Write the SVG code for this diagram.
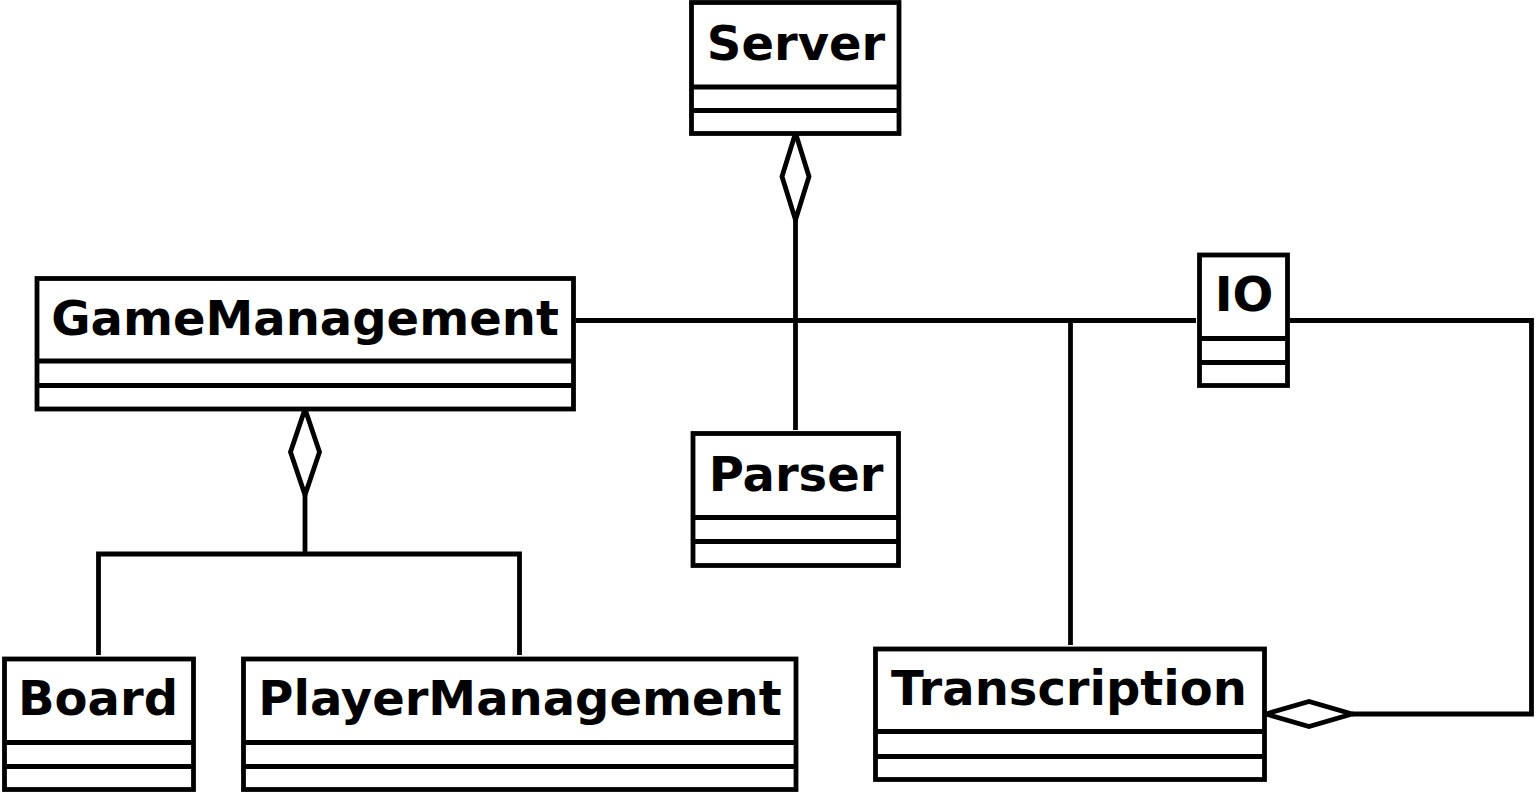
<svg xmlns="http://www.w3.org/2000/svg" width="1537" height="800" viewBox="0 0 1537 800">
<style>
.box{fill:#fff;stroke:#000;stroke-width:4.8}
.sep{stroke:#000;stroke-width:4.8}
.t{font-family:"DejaVu Sans","Liberation Sans",sans-serif;font-weight:bold;font-size:48px;fill:#000;text-anchor:middle}
.c{fill:none;stroke:#000;stroke-width:4.8}
.d{fill:#fff;stroke:#000;stroke-width:4.8;stroke-linejoin:miter}
</style>
<rect width="1537" height="800" fill="#fff"/>
<g id="connectors">
<polyline class="c" points="576,320.5 1196,320.5"/>
<polyline class="c" points="795.5,220 795.5,430"/>
<polygon class="d" points="795.5,133 809,176.5 795.5,220 782,176.5"/>
<polyline class="c" points="1070.5,320.5 1070.5,645"/>
<polyline class="c" points="1290,320.5 1531.5,320.5 1531.5,714 1352,714"/>
<polygon class="d" points="1266,714 1309,701.5 1352,714 1309,726.5"/>
<polyline class="c" points="305,495 305,554"/>
<polyline class="c" points="98.5,655 98.5,554 519.5,554 519.5,655"/>
<polygon class="d" points="305,409 319.5,452 305,495 290.5,452"/>
</g>
<g id="Server">
<rect class="box" x="691.5" y="2.5" width="207.5" height="131"/>
<line class="sep" x1="691.5" y1="87" x2="899" y2="87"/>
<line class="sep" x1="691.5" y1="110.5" x2="899" y2="110.5"/>
<text class="t" x="796" y="60">Server</text>
</g>
<g id="GameManagement">
<rect class="box" x="37" y="278.5" width="536.5" height="130.5"/>
<line class="sep" x1="37" y1="361" x2="573.5" y2="361"/>
<line class="sep" x1="37" y1="385.5" x2="573.5" y2="385.5"/>
<text class="t" x="305" y="335">GameManagement</text>
</g>
<g id="IO">
<rect class="box" x="1199.5" y="255" width="88" height="130.5"/>
<line class="sep" x1="1199.5" y1="338.5" x2="1287.5" y2="338.5"/>
<line class="sep" x1="1199.5" y1="362.5" x2="1287.5" y2="362.5"/>
<text class="t" x="1244" y="311">IO</text>
</g>
<g id="Parser">
<rect class="box" x="693" y="433.5" width="205.5" height="132"/>
<line class="sep" x1="693" y1="517.5" x2="898.5" y2="517.5"/>
<line class="sep" x1="693" y1="541.5" x2="898.5" y2="541.5"/>
<text class="t" x="796" y="491">Parser</text>
</g>
<g id="Board">
<rect class="box" x="4.5" y="659" width="189" height="130.5"/>
<line class="sep" x1="4.5" y1="742.5" x2="193.5" y2="742.5"/>
<line class="sep" x1="4.5" y1="766.5" x2="193.5" y2="766.5"/>
<text class="t" x="98" y="715">Board</text>
</g>
<g id="PlayerManagement">
<rect class="box" x="243.5" y="659" width="552.5" height="130.5"/>
<line class="sep" x1="243.5" y1="742.5" x2="796" y2="742.5"/>
<line class="sep" x1="243.5" y1="766.5" x2="796" y2="766.5"/>
<text class="t" x="520" y="715">PlayerManagement</text>
</g>
<g id="Transcription">
<rect class="box" x="875.5" y="649" width="389" height="130.5"/>
<line class="sep" x1="875.5" y1="731.5" x2="1264.5" y2="731.5"/>
<line class="sep" x1="875.5" y1="756.5" x2="1264.5" y2="756.5"/>
<text class="t" x="1069" y="705">Transcription</text>
</g>
</svg>
